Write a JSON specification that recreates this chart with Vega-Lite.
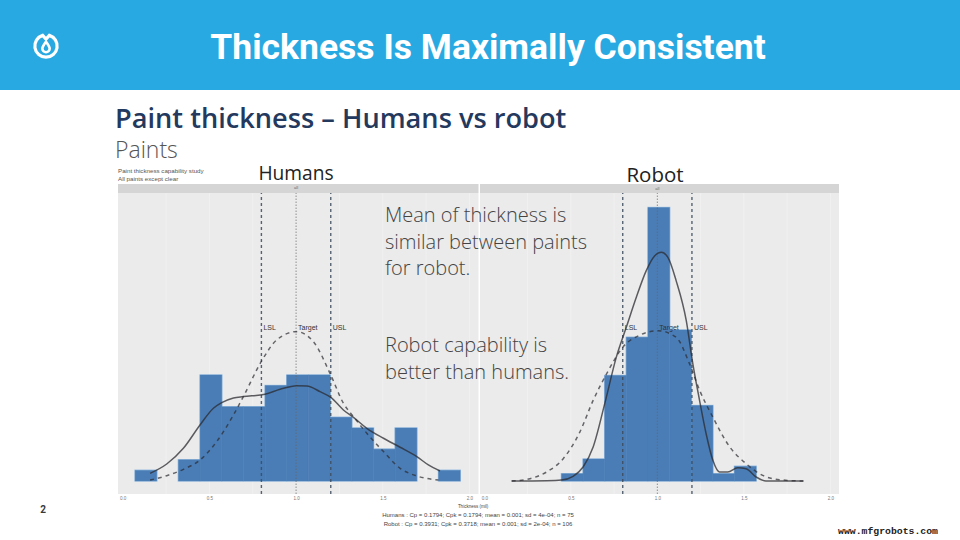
{
  "$schema": "https://vega.github.io/schema/vega-lite/v6.json",
  "width": 960,
  "height": 540,
  "autosize": {"type": "none"},
  "padding": 0,
  "background": "white",
  "config": {"view": {"stroke": null}},
  "datasets": {
    "humans_bars": [
      {"bin_start": 0.0715, "bin_end": 0.1965, "count": 1},
      {"bin_start": 0.3215, "bin_end": 0.4465, "count": 2},
      {"bin_start": 0.4465, "bin_end": 0.5715, "count": 10},
      {"bin_start": 0.5715, "bin_end": 0.6965, "count": 7},
      {"bin_start": 0.6965, "bin_end": 0.8215, "count": 7},
      {"bin_start": 0.8215, "bin_end": 0.9465, "count": 9},
      {"bin_start": 0.9465, "bin_end": 1.0715, "count": 10},
      {"bin_start": 1.0715, "bin_end": 1.1965, "count": 10},
      {"bin_start": 1.1965, "bin_end": 1.3215, "count": 6},
      {"bin_start": 1.3215, "bin_end": 1.4465, "count": 5},
      {"bin_start": 1.4465, "bin_end": 1.5715, "count": 3},
      {"bin_start": 1.5715, "bin_end": 1.6965, "count": 5},
      {"bin_start": 1.8215, "bin_end": 1.9465, "count": 1}
    ],
    "humans_curves": [
      {"series": "observed", "thickness": 0.158, "count": 0.72},
      {"series": "observed", "thickness": 0.254, "count": 1.6},
      {"series": "observed", "thickness": 0.35, "count": 3.08},
      {"series": "observed", "thickness": 0.446, "count": 5.28},
      {"series": "observed", "thickness": 0.523, "count": 6.86},
      {"series": "observed", "thickness": 0.571, "count": 7.39},
      {"series": "observed", "thickness": 0.639, "count": 7.83},
      {"series": "observed", "thickness": 0.696, "count": 7.96},
      {"series": "observed", "thickness": 0.821, "count": 8.18},
      {"series": "observed", "thickness": 0.908, "count": 8.65},
      {"series": "observed", "thickness": 1.004, "count": 8.99},
      {"series": "observed", "thickness": 1.062, "count": 8.96},
      {"series": "observed", "thickness": 1.138, "count": 8.43},
      {"series": "observed", "thickness": 1.2, "count": 7.89},
      {"series": "observed", "thickness": 1.273, "count": 6.7},
      {"series": "observed", "thickness": 1.331, "count": 6.0},
      {"series": "observed", "thickness": 1.408, "count": 4.97},
      {"series": "observed", "thickness": 1.504, "count": 4.03},
      {"series": "observed", "thickness": 1.6, "count": 3.18},
      {"series": "observed", "thickness": 1.696, "count": 2.3},
      {"series": "observed", "thickness": 1.763, "count": 1.51},
      {"series": "observed", "thickness": 1.83, "count": 0.94},
      {"series": "normal", "thickness": 0.158, "count": 0.09},
      {"series": "normal", "thickness": 0.254, "count": 0.5},
      {"series": "normal", "thickness": 0.35, "count": 1.1},
      {"series": "normal", "thickness": 0.446, "count": 1.98},
      {"series": "normal", "thickness": 0.542, "count": 3.71},
      {"series": "normal", "thickness": 0.639, "count": 6.23},
      {"series": "normal", "thickness": 0.696, "count": 7.96},
      {"series": "normal", "thickness": 0.804, "count": 11.4},
      {"series": "normal", "thickness": 0.888, "count": 13.3},
      {"series": "normal", "thickness": 1.002, "count": 14.09},
      {"series": "normal", "thickness": 1.1, "count": 13.14},
      {"series": "normal", "thickness": 1.2, "count": 10.0},
      {"series": "normal", "thickness": 1.273, "count": 7.33},
      {"series": "normal", "thickness": 1.331, "count": 6.07},
      {"series": "normal", "thickness": 1.408, "count": 4.5},
      {"series": "normal", "thickness": 1.504, "count": 2.77},
      {"series": "normal", "thickness": 1.6, "count": 1.19},
      {"series": "normal", "thickness": 1.696, "count": 0.47},
      {"series": "normal", "thickness": 1.821, "count": 0.09}
    ],
    "robot_bars": [
      {"bin_start": 0.446, "bin_end": 0.571, "count": 1},
      {"bin_start": 0.571, "bin_end": 0.696, "count": 3},
      {"bin_start": 0.696, "bin_end": 0.821, "count": 14.4},
      {"bin_start": 0.821, "bin_end": 0.946, "count": 19.6},
      {"bin_start": 0.946, "bin_end": 1.071, "count": 37.3},
      {"bin_start": 1.071, "bin_end": 1.196, "count": 20.6},
      {"bin_start": 1.196, "bin_end": 1.321, "count": 10.3},
      {"bin_start": 1.321, "bin_end": 1.446, "count": 1},
      {"bin_start": 1.446, "bin_end": 1.571, "count": 2}
    ],
    "robot_curves": [
      {"series": "observed", "thickness": 0.158, "count": 0},
      {"series": "observed", "thickness": 0.36, "count": 0.05},
      {"series": "observed", "thickness": 0.446, "count": 0.14},
      {"series": "observed", "thickness": 0.513, "count": 0.64},
      {"series": "observed", "thickness": 0.571, "count": 1.91},
      {"series": "observed", "thickness": 0.629, "count": 4.64},
      {"series": "observed", "thickness": 0.696, "count": 10.55},
      {"series": "observed", "thickness": 0.763, "count": 16.9},
      {"series": "observed", "thickness": 0.821, "count": 21.0},
      {"series": "observed", "thickness": 0.879, "count": 25.1},
      {"series": "observed", "thickness": 0.936, "count": 28.7},
      {"series": "observed", "thickness": 0.984, "count": 30.7},
      {"series": "observed", "thickness": 1.023, "count": 31.2},
      {"series": "observed", "thickness": 1.061, "count": 30.5},
      {"series": "observed", "thickness": 1.109, "count": 27.3},
      {"series": "observed", "thickness": 1.167, "count": 21.9},
      {"series": "observed", "thickness": 1.205, "count": 16.0},
      {"series": "observed", "thickness": 1.244, "count": 11.0},
      {"series": "observed", "thickness": 1.282, "count": 6.45},
      {"series": "observed", "thickness": 1.321, "count": 2.82},
      {"series": "observed", "thickness": 1.359, "count": 1.23},
      {"series": "observed", "thickness": 1.407, "count": 1.23},
      {"series": "observed", "thickness": 1.465, "count": 1.82},
      {"series": "observed", "thickness": 1.513, "count": 1.68},
      {"series": "observed", "thickness": 1.571, "count": 0.55},
      {"series": "observed", "thickness": 1.628, "count": 0},
      {"series": "observed", "thickness": 1.844, "count": 0},
      {"series": "normal", "thickness": 0.158, "count": 0},
      {"series": "normal", "thickness": 0.264, "count": 0.32},
      {"series": "normal", "thickness": 0.36, "count": 1.23},
      {"series": "normal", "thickness": 0.456, "count": 3.05},
      {"series": "normal", "thickness": 0.552, "count": 6.68},
      {"series": "normal", "thickness": 0.629, "count": 11.0},
      {"series": "normal", "thickness": 0.706, "count": 14.6},
      {"series": "normal", "thickness": 0.802, "count": 18.3},
      {"series": "normal", "thickness": 0.898, "count": 19.9},
      {"series": "normal", "thickness": 1.003, "count": 20.5},
      {"series": "normal", "thickness": 1.109, "count": 19.6},
      {"series": "normal", "thickness": 1.186, "count": 16.0},
      {"series": "normal", "thickness": 1.244, "count": 12.4},
      {"series": "normal", "thickness": 1.321, "count": 8.7},
      {"series": "normal", "thickness": 1.417, "count": 4.7},
      {"series": "normal", "thickness": 1.513, "count": 2.36},
      {"series": "normal", "thickness": 1.609, "count": 0.77},
      {"series": "normal", "thickness": 1.705, "count": 0.18},
      {"series": "normal", "thickness": 1.844, "count": 0}
    ],
    "limits": [
      {"label": "LSL", "thickness": 0.8},
      {"label": "Target", "thickness": 1.0},
      {"label": "USL", "thickness": 1.2}
    ],
    "grid_x": [
      {"thickness": 0.25}, {"thickness": 0.5}, {"thickness": 0.75}, {"thickness": 1.0},
      {"thickness": 1.25}, {"thickness": 1.5}, {"thickness": 1.75}, {"thickness": 2.0}
    ]
  },
  "layer": [
    {
      "data": {"values": [{}]},
      "mark": {"type": "rect", "color": "#29a9e1", "x": 0, "x2": 960, "y": 0, "y2": 90}
    },
    {
      "data": {"values": [{}]},
      "mark": {"type": "text", "x": 488, "y": 48, "align": "center", "baseline": "middle", "font": "Roboto", "fontWeight": "bold", "fontSize": 35.5, "color": "white", "text": "Thickness Is Maximally Consistent"}
    },
    {
      "data": {"values": [{}]},
      "mark": {"type": "point", "x": 46, "y": 46, "shape": "M0.3,-0.95 A1,1 0 1 1 -0.3,-0.95 L0,-0.62 Z", "size": 500, "filled": false, "stroke": "white", "strokeWidth": 3.2, "opacity": 1}
    },
    {
      "data": {"values": [{}]},
      "mark": {"type": "point", "x": 46, "y": 47, "shape": "M0,-1 C0.45,-0.35 0.7,0 0.7,0.3 A0.7,0.7 0 1 1 -0.7,0.3 C-0.7,0 -0.45,-0.35 0,-1 Z", "size": 110, "filled": false, "stroke": "white", "strokeWidth": 2.6, "opacity": 1}
    },
    {
      "data": {"values": [{}]},
      "mark": {"type": "text", "x": 115, "y": 120, "align": "left", "baseline": "middle", "font": "Open Sans", "fontWeight": 600, "fontSize": 27.2, "color": "#24395e", "text": "Paint thickness – Humans vs robot"}
    },
    {
      "data": {"values": [{}]},
      "mark": {"type": "text", "x": 115, "y": 151, "align": "left", "baseline": "middle", "font": "Open Sans", "fontWeight": 300, "fontSize": 23, "color": "#555555", "text": "Paints"}
    },
    {
      "data": {"values": [{}]},
      "mark": {"type": "text", "x": 118, "y": 171, "align": "left", "baseline": "middle", "font": "Liberation Sans", "fontSize": 6.2, "color": "#555555", "lineHeight": 8, "text": ["Paint thickness capability study", "All paints except clear"]}
    },
    {
      "data": {"values": [{}]},
      "mark": {"type": "text", "x": 296, "y": 174, "align": "center", "baseline": "middle", "font": "Open Sans", "fontSize": 19.2, "color": "#222222", "text": "Humans"}
    },
    {
      "data": {"values": [{}]},
      "mark": {"type": "text", "x": 655, "y": 175.5, "align": "center", "baseline": "middle", "font": "Open Sans", "fontSize": 20.5, "color": "#222222", "text": "Robot"}
    },
    {
      "layer": [
        {
          "data": {"values": [{}]},
          "mark": {"type": "rect", "color": "#ebebeb"},
          "encoding": {
            "x": {"datum": -0.027, "type": "quantitative", "axis": {"orient": "bottom", "values": [0, 0.5, 1, 1.5, 2], "format": ".1f", "offset": -45, "title": null, "domain": false, "ticks": false, "grid": false, "labelFontSize": 4.5, "labelColor": "#777777", "labelPadding": 0}, "scale": {"domain": [-0.027, 2.052], "range": [118, 478.5], "nice": false, "zero": false}},
            "x2": {"datum": 2.052},
            "y": {"datum": -1.23, "type": "quantitative", "axis": null, "scale": {"domain": [-1.23, 27.17], "range": [494, 193], "nice": false, "zero": false}},
            "y2": {"datum": 27.17}
          }
        },
        {
          "data": {"values": [{}]},
          "mark": {"type": "rect", "color": "#d5d5d5"},
          "encoding": {
            "x": {"datum": -0.027, "type": "quantitative"},
            "x2": {"datum": 2.052},
            "y": {"datum": 27.17, "type": "quantitative"},
            "y2": {"datum": 28.02}
          }
        },
        {
          "data": {"name": "grid_x"},
          "mark": {"type": "rule", "color": "white", "strokeWidth": 0.6, "opacity": 0.5},
          "encoding": {
            "x": {"field": "thickness", "type": "quantitative"},
            "y": {"datum": -1.23, "type": "quantitative"},
            "y2": {"datum": 27.17}
          }
        },
        {
          "data": {"name": "humans_bars"},
          "mark": {"type": "rect", "color": "#a9c8e6", "stroke": "#a9c8e6", "strokeWidth": 1.6},
          "encoding": {
            "x": {"field": "bin_start", "type": "quantitative"},
            "x2": {"field": "bin_end"},
            "y": {"field": "count", "type": "quantitative"},
            "y2": {"datum": 0}
          }
        },
        {
          "data": {"name": "humans_bars"},
          "mark": {"type": "rect", "color": "#4a7db6", "stroke": "#4a7db6", "strokeWidth": 0.4},
          "encoding": {
            "x": {"field": "bin_start", "type": "quantitative"},
            "x2": {"field": "bin_end"},
            "y": {"field": "count", "type": "quantitative"},
            "y2": {"datum": 0}
          }
        },
        {
          "data": {"name": "limits"},
          "mark": {"type": "rule", "color": "#3c4a5c", "strokeWidth": 1.4, "strokeDash": [3, 3], "opacity": 0.85},
          "transform": [{"filter": "datum.label != 'Target'"}],
          "encoding": {
            "x": {"field": "thickness", "type": "quantitative"},
            "y": {"datum": -1.23, "type": "quantitative"},
            "y2": {"datum": 27.17}
          }
        },
        {
          "data": {"name": "limits"},
          "mark": {"type": "rule", "color": "#666666", "strokeWidth": 0.9, "strokeDash": [1.5, 1.5], "opacity": 0.8},
          "transform": [{"filter": "datum.label == 'Target'"}],
          "encoding": {
            "x": {"field": "thickness", "type": "quantitative"},
            "y": {"datum": -1.23, "type": "quantitative"},
            "y2": {"datum": 27.17}
          }
        },
        {
          "data": {"name": "humans_curves"},
          "mark": {"type": "line", "color": "#2b2b30", "strokeWidth": 1.5, "strokeDash": [4, 4], "opacity": 0.7, "interpolate": "monotone"},
          "transform": [{"filter": "datum.series == 'normal'"}],
          "encoding": {
            "x": {"field": "thickness", "type": "quantitative"},
            "y": {"field": "count", "type": "quantitative"}
          }
        },
        {
          "data": {"name": "humans_curves"},
          "mark": {"type": "line", "color": "#2b2b30", "strokeWidth": 1.5, "opacity": 0.75, "interpolate": "monotone"},
          "transform": [{"filter": "datum.series == 'observed'"}],
          "encoding": {
            "x": {"field": "thickness", "type": "quantitative"},
            "y": {"field": "count", "type": "quantitative"}
          }
        },
        {
          "data": {"name": "limits"},
          "mark": {"type": "text", "align": "left", "baseline": "middle", "dx": 2, "font": "Liberation Sans", "fontSize": 7, "color": "#333333"},
          "encoding": {
            "x": {"field": "thickness", "type": "quantitative"},
            "y": {"datum": 14.45, "type": "quantitative"},
            "text": {"field": "label"}
          }
        },
        {
          "data": {"values": [{}]},
          "mark": {"type": "text", "align": "center", "baseline": "middle", "font": "Liberation Sans", "fontSize": 4, "color": "#666666", "text": "all"},
          "encoding": {
            "x": {"datum": 1.0, "type": "quantitative"},
            "y": {"datum": 27.6, "type": "quantitative"}
          }
        }
      ]
    },
    {
      "layer": [
        {
          "data": {"values": [{}]},
          "mark": {"type": "rect", "color": "#ebebeb"},
          "encoding": {
            "x": {"datum": -0.025, "type": "quantitative", "axis": {"orient": "bottom", "values": [0, 0.5, 1, 1.5, 2], "format": ".1f", "offset": -45, "title": null, "domain": false, "ticks": false, "grid": false, "labelFontSize": 4.5, "labelColor": "#777777", "labelPadding": 0}, "scale": {"domain": [-0.025, 2.05], "range": [480, 839], "nice": false, "zero": false}},
            "x2": {"datum": 2.05},
            "y": {"datum": -1.77, "type": "quantitative", "axis": null, "scale": {"domain": [-1.77, 39.29], "range": [494, 193], "nice": false, "zero": false}},
            "y2": {"datum": 39.29}
          }
        },
        {
          "data": {"values": [{}]},
          "mark": {"type": "rect", "color": "#d5d5d5"},
          "encoding": {
            "x": {"datum": -0.025, "type": "quantitative"},
            "x2": {"datum": 2.05},
            "y": {"datum": 39.29, "type": "quantitative"},
            "y2": {"datum": 40.52}
          }
        },
        {
          "data": {"name": "grid_x"},
          "mark": {"type": "rule", "color": "white", "strokeWidth": 0.6, "opacity": 0.5},
          "encoding": {
            "x": {"field": "thickness", "type": "quantitative"},
            "y": {"datum": -1.77, "type": "quantitative"},
            "y2": {"datum": 39.29}
          }
        },
        {
          "data": {"name": "robot_bars"},
          "mark": {"type": "rect", "color": "#a9c8e6", "stroke": "#a9c8e6", "strokeWidth": 1.6},
          "encoding": {
            "x": {"field": "bin_start", "type": "quantitative"},
            "x2": {"field": "bin_end"},
            "y": {"field": "count", "type": "quantitative"},
            "y2": {"datum": 0}
          }
        },
        {
          "data": {"name": "robot_bars"},
          "mark": {"type": "rect", "color": "#4a7db6", "stroke": "#4a7db6", "strokeWidth": 0.4},
          "encoding": {
            "x": {"field": "bin_start", "type": "quantitative"},
            "x2": {"field": "bin_end"},
            "y": {"field": "count", "type": "quantitative"},
            "y2": {"datum": 0}
          }
        },
        {
          "data": {"name": "limits"},
          "mark": {"type": "rule", "color": "#3c4a5c", "strokeWidth": 1.4, "strokeDash": [3, 3], "opacity": 0.85},
          "transform": [{"filter": "datum.label != 'Target'"}],
          "encoding": {
            "x": {"field": "thickness", "type": "quantitative"},
            "y": {"datum": -1.77, "type": "quantitative"},
            "y2": {"datum": 39.29}
          }
        },
        {
          "data": {"name": "limits"},
          "mark": {"type": "rule", "color": "#666666", "strokeWidth": 0.9, "strokeDash": [1.5, 1.5], "opacity": 0.8},
          "transform": [{"filter": "datum.label == 'Target'"}],
          "encoding": {
            "x": {"field": "thickness", "type": "quantitative"},
            "y": {"datum": -1.77, "type": "quantitative"},
            "y2": {"datum": 39.29}
          }
        },
        {
          "data": {"name": "robot_curves"},
          "mark": {"type": "line", "color": "#2b2b30", "strokeWidth": 1.5, "strokeDash": [4, 4], "opacity": 0.7, "interpolate": "monotone"},
          "transform": [{"filter": "datum.series == 'normal'"}],
          "encoding": {
            "x": {"field": "thickness", "type": "quantitative"},
            "y": {"field": "count", "type": "quantitative"}
          }
        },
        {
          "data": {"name": "robot_curves"},
          "mark": {"type": "line", "color": "#2b2b30", "strokeWidth": 1.5, "opacity": 0.75, "interpolate": "monotone"},
          "transform": [{"filter": "datum.series == 'observed'"}],
          "encoding": {
            "x": {"field": "thickness", "type": "quantitative"},
            "y": {"field": "count", "type": "quantitative"}
          }
        },
        {
          "data": {"name": "limits"},
          "mark": {"type": "text", "align": "left", "baseline": "middle", "dx": 2, "font": "Liberation Sans", "fontSize": 7, "color": "#333333"},
          "encoding": {
            "x": {"field": "thickness", "type": "quantitative"},
            "y": {"datum": 20.9, "type": "quantitative"},
            "text": {"field": "label"}
          }
        },
        {
          "data": {"values": [{}]},
          "mark": {"type": "text", "align": "center", "baseline": "middle", "font": "Liberation Sans", "fontSize": 4, "color": "#666666", "text": "all"},
          "encoding": {
            "x": {"datum": 1.0, "type": "quantitative"},
            "y": {"datum": 39.9, "type": "quantitative"}
          }
        }
      ]
    },
    {
      "data": {"values": [{}]},
      "mark": {"type": "text", "x": 385, "y": 216, "align": "left", "baseline": "middle", "font": "Open Sans", "fontWeight": 300, "fontSize": 20, "lineHeight": 26.5, "color": "#444444", "text": ["Mean of thickness is", "similar between paints", "for robot."]}
    },
    {
      "data": {"values": [{}]},
      "mark": {"type": "text", "x": 385, "y": 346, "align": "left", "baseline": "middle", "font": "Open Sans", "fontWeight": 300, "fontSize": 20, "lineHeight": 26.5, "color": "#444444", "text": ["Robot capability is", "better than humans."]}
    },
    {
      "data": {"values": [{}]},
      "mark": {"type": "text", "x": 473, "y": 507, "align": "center", "baseline": "middle", "font": "Liberation Sans", "fontSize": 4.5, "color": "#444444", "text": "Thickness (mil)"}
    },
    {
      "data": {"values": [{}]},
      "mark": {"type": "text", "x": 478, "y": 515, "align": "center", "baseline": "middle", "font": "Liberation Sans", "fontSize": 6, "color": "#444444", "lineHeight": 9, "text": ["Humans : Cp = 0.1794; Cpk = 0.1794; mean = 0.001; sd = 4e-04; n = 75", "Robot : Cp = 0.3931; Cpk = 0.3718; mean = 0.001; sd = 2e-04; n = 106"]}
    },
    {
      "data": {"values": [{}]},
      "mark": {"type": "text", "x": 43, "y": 510, "align": "center", "baseline": "middle", "font": "Roboto", "fontWeight": "bold", "fontSize": 10, "color": "#3a3a3a", "text": "2"}
    },
    {
      "data": {"values": [{}]},
      "mark": {"type": "text", "x": 938, "y": 531, "align": "right", "baseline": "middle", "font": "Liberation Mono", "fontWeight": "bold", "fontSize": 9.8, "color": "#222222", "text": "www.mfgrobots.com"}
    }
  ],
  "resolve": {"scale": {"x": "independent", "y": "independent"}, "axis": {"x": "independent"}}
}
